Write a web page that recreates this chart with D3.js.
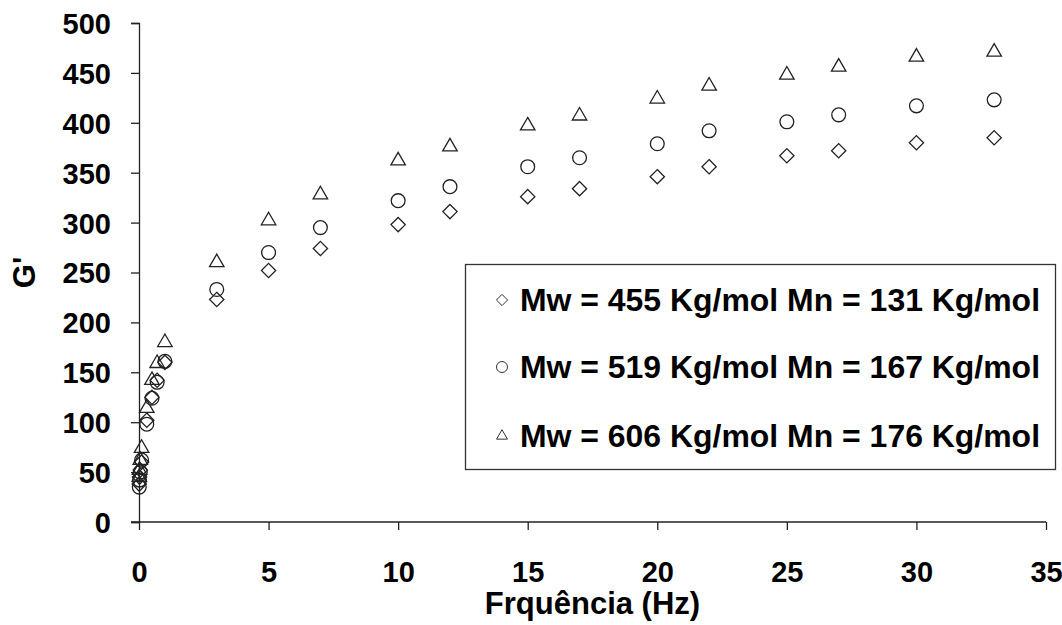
<!DOCTYPE html>
<html>
<head>
<meta charset="utf-8">
<script src="https://cdn.jsdelivr.net/npm/d3@7"></script>
<style>
  html, body { margin: 0; padding: 0; background: #fff; }
  svg { display: block; }
  text { font-family: "Liberation Sans", Arial, sans-serif; font-weight: bold; fill: #000; }
</style>
</head>
<body>
<svg id="chart" width="1062" height="625"></svg>
<script>
// ---- data ----
const frequencies = [0.01, 0.02, 0.05, 0.1, 0.3, 0.5, 0.7, 1, 3, 5, 7, 10, 12, 15, 17, 20, 22, 25, 27, 30, 33];
const seriesNames = [
  "Mw = 455 Kg/mol Mn = 131 Kg/mol",
  "Mw = 519 Kg/mol Mn = 167 Kg/mol",
  "Mw = 606 Kg/mol Mn = 176 Kg/mol"
];
const seriesSymbols = ["diamond", "circle", "triangle"];
const gMw455 = [38, 45, 52, 60, 102, 125, 142, 160, 223, 252, 274, 298, 311, 326, 334, 346, 356, 367, 372, 380, 385];
const gMw519 = [35, 42, 50, 62, 98, 124, 140, 161, 233, 270, 295, 322, 336, 356, 365, 379, 392, 401, 408, 417, 423];
const gMw606 = [45, 52, 62, 74, 114, 142, 159, 180, 260, 302, 328, 362, 376, 397, 407, 424, 437, 448, 456, 466, 471];
const xTicks = [0, 5, 10, 15, 20, 25, 30, 35];
const yTicks = [0, 50, 100, 150, 200, 250, 300, 350, 400, 450, 500];
const xTitle = "Frquência (Hz)";
const yTitle = "G'";

const seriesValues = [gMw455, gMw519, gMw606];

// ---- layout ----
const svg = d3.select("#chart");
const x = d3.scaleLinear().domain([0, 35]).range([139, 1046]);
const y = d3.scaleLinear().domain([0, 500]).range([522, 23]);

const symbolTypes = { diamond: d3.symbolDiamond2, circle: d3.symbolCircle, triangle: d3.symbolTriangle2 };
const symbolSizes = { diamond: 130, circle: 150, triangle: 150 };
const legendSizes = { diamond: 80, circle: 95, triangle: 85 };

// axes
const xAxis = d3.axisBottom(x).tickValues(xTicks).tickSize(8).tickFormat(d3.format("d"));
const yAxis = d3.axisLeft(y).tickValues(yTicks).tickSize(8).tickFormat(d3.format("d"));

const gx = svg.append("g").attr("transform", `translate(0,${y(0)})`).call(xAxis);
const gy = svg.append("g").attr("transform", `translate(${x(0)},0)`).call(yAxis);

[gx, gy].forEach(g => {
  g.select(".domain").attr("stroke", "#222").attr("stroke-width", 1.3);
  g.selectAll(".tick line").attr("stroke", "#222").attr("stroke-width", 1.3);
  g.selectAll(".tick text").style("font-size", "29px").style("font-weight", "bold")
    .style("font-family", '"Liberation Sans", Arial, sans-serif').attr("fill", "#000");
});
gx.select(".domain").attr("d", `M${x(0) - 8},0H${x(35)}`);
gx.selectAll(".tick text").attr("dy", 0).attr("y", 60);
gy.selectAll(".tick text").attr("x", -28).attr("dy", "0.36em");

// axis titles
svg.append("text").attr("x", (x(0) + x(35)) / 2).attr("y", 614)
  .attr("text-anchor", "middle").style("font-size", "31px").text(xTitle);
svg.append("text").attr("transform", `translate(35,${(y(0) + y(500)) / 2}) rotate(-90)`)
  .attr("text-anchor", "middle").style("font-size", "31px").text(yTitle);

// points
seriesValues.forEach((vals, si) => {
  const sym = d3.symbol().type(symbolTypes[seriesSymbols[si]]).size(symbolSizes[seriesSymbols[si]]);
  svg.append("g").selectAll("path").data(vals).join("path")
    .attr("d", sym)
    .attr("transform", (d, i) => `translate(${x(frequencies[i])},${y(d)})`)
    .attr("fill", "none").attr("stroke", "#222").attr("stroke-width", 1.3);
});

// legend
const legend = svg.append("g");
legend.append("rect").attr("x", 465.5).attr("y", 264.5).attr("width", 590).attr("height", 205)
  .attr("fill", "#fff").attr("stroke", "#333").attr("stroke-width", 1.3);
const rowY = [300, 367, 436];
seriesNames.forEach((name, i) => {
  const sym = d3.symbol().type(symbolTypes[seriesSymbols[i]]).size(legendSizes[seriesSymbols[i]]);
  legend.append("path").attr("d", sym).attr("transform", `translate(502,${rowY[i]})`)
    .attr("fill", "none").attr("stroke", "#333").attr("stroke-width", 1);
  legend.append("text").attr("x", 520).attr("y", rowY[i]).attr("dy", "0.36em")
    .style("font-size", "31px").attr("textLength", 520).attr("lengthAdjust", "spacingAndGlyphs")
    .text(name);
});
</script>
</body>
</html>
